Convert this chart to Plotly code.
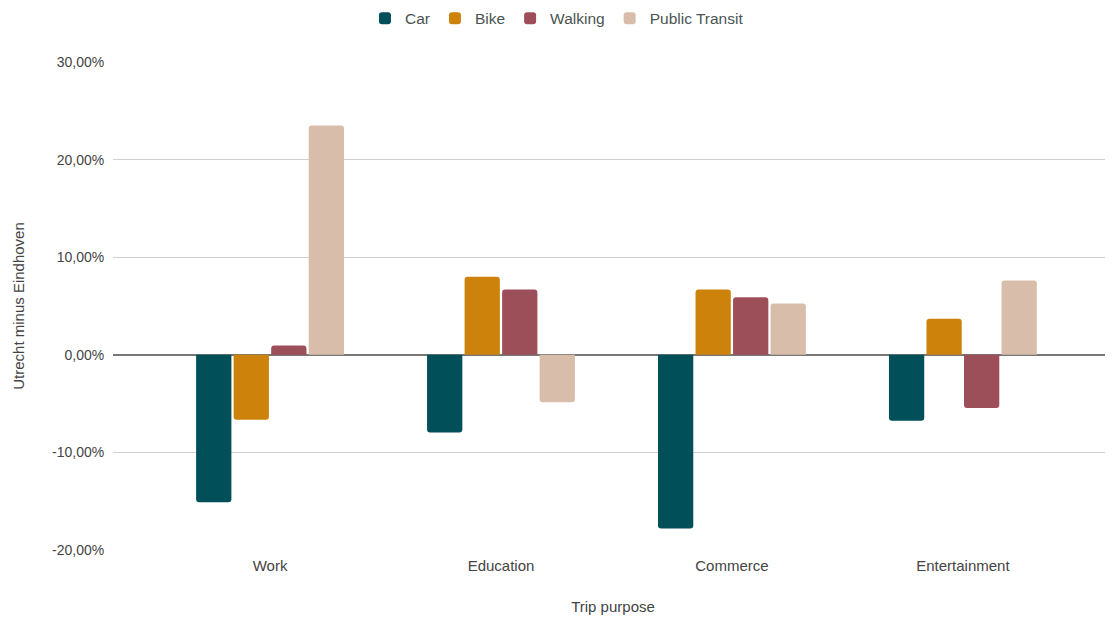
import plotly.graph_objects as go

categories = ["Work", "Education", "Commerce", "Entertainment"]
car = [-0.151, -0.0795, -0.178, -0.0675]
bike = [-0.0665, 0.080, 0.067, 0.037]
walking = [0.0095, 0.067, 0.059, -0.0545]
transit = [0.235, -0.0485, 0.0525, 0.076]

series_names = ["Car", "Bike", "Walking", "Public Transit"]
series_values = [car, bike, walking, transit]
colors = ["#014f59", "#cd830b", "#9d4f59", "#d8bdaa"]

tick_values = [-0.2, -0.1, 0.0, 0.1, 0.2, 0.3]
tick_labels = ["-20,00%", "-10,00%", "0,00%", "10,00%", "20,00%", "30,00%"]

font_family = "Arial, Liberation Sans, sans-serif"
text_color = "#444444"

fig = go.Figure()
for name, vals, col in zip(series_names, series_values, colors):
    fig.add_trace(go.Bar(x=categories, y=vals, name=name, marker_color=col,
                         marker_line_width=0))

fig.update_layout(
    width=1105, height=613,
    paper_bgcolor="white", plot_bgcolor="white",
    barmode="group", bargap=0.35, bargroupgap=0.06, barcornerradius=3,
    margin=dict(l=105, r=0, t=54, b=71, autoexpand=False),
    font=dict(family=font_family, color=text_color, size=15),
    legend=dict(orientation="h", xref="container", yref="container",
                x=0.4968, xanchor="center", y=0.9827, yanchor="middle",
                font=dict(size=15.5, color="#4a5453"), itemwidth=30,
                traceorder="normal"),
    xaxis=dict(range=[-0.68, 3.65], showgrid=False, showline=False,
               ticks="outside", ticklen=2, tickcolor="rgba(0,0,0,0)",
               automargin=False, tickfont=dict(size=15),
               title=dict(text="Trip purpose", font=dict(size=15), standoff=28)),
    yaxis=dict(range=[-0.2, 0.3], tickvals=tick_values, ticktext=tick_labels,
               tickfont=dict(size=14), showgrid=True, gridcolor="#d0d0d0", gridwidth=1,
               zeroline=True, zerolinecolor="#777777", zerolinewidth=1.5,
               showline=False, ticks="outside", ticklen=5, tickcolor="rgba(0,0,0,0)",
               automargin=False,
               title=dict(text="Utrecht minus Eindhoven", font=dict(size=15), standoff=23)),
)

fig.write_html("out.html")
